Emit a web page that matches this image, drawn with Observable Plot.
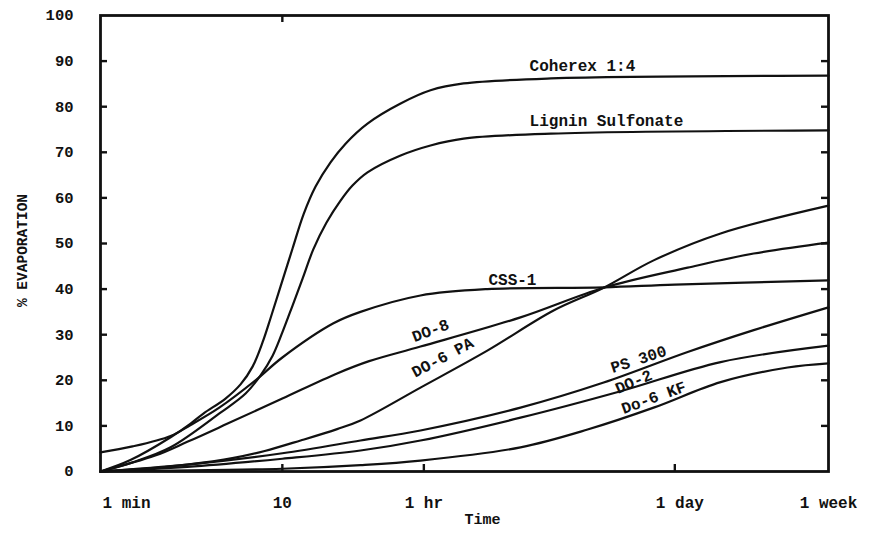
<!DOCTYPE html>
<html><head><meta charset="utf-8">
<script src="https://cdn.jsdelivr.net/npm/d3@7"></script>
<script src="https://cdn.jsdelivr.net/npm/@observablehq/plot@0.6"></script>
<style>
body{margin:0;background:#fff;}
#chart svg{display:block;}
</style>
</head><body><div id="chart"></div>
<script>
// ---- data (time in minutes, % evaporation) ----
const yTicks = [0, 10, 20, 30, 40, 50, 60, 70, 80, 90, 100];
const xTickTimes = [1, 10, 60, 1440, 10080];
const xTickLabels = ["1 min", "10", "1 hr", "1 day", "1 week"];
const innerBottomTicks = [10, 60, 1440];
const innerTopTicks = [10];

const coherex = [[1,0],[1.46,2.5],[2.43,7.5],[3.13,10.5],[3.68,12.7],[4.87,16],[5.89,19.1],[6.86,23],[7.78,28.3],[8.61,33.6],[9.78,40.6],[11.38,48.9],[13.08,56.4],[15.23,62.5],[18.41,67.8],[22.27,71.9],[29.4,76.3],[44.7,80.7],[65.3,83.6],[99.3,85.1],[300,86.2],[10080,86.8]];
const lignin = [[1,0],[1.5,2],[2.43,5.3],[4.57,12.9],[6.28,17.1],[7.59,21.1],[8.84,25.4],[10,30.5],[11.38,36.4],[12.92,42.3],[14.8,48.7],[17.5,54.6],[20.9,59.4],[24.3,62.7],[29.4,65.6],[44.7,69.3],[65.3,71.5],[99.3,73],[300,74.1],[10080,74.8]];
const css1 = [[1,4.2],[1.5,5.5],[2.43,7.8],[3.13,10.2],[4.5,14],[7.12,20],[10,25],[19.1,32.5],[26.9,35],[57.5,38.6],[134,40],[585,40.4],[1440,41],[10080,41.9]];
const do8 = [[1,0],[2,3.5],[3,6.5],[5,10.5],[10,16],[20,21.5],[30,24.2],[57.5,27.4],[204,33.8],[585,40.3],[1694,44.7],[3909,47.8],[10080,50.2]];
const do6pa = [[1,0],[2,0.8],[3,1.5],[5.4,3],[8,4.5],[12.6,6.8],[20,9.3],[26.9,11.2],[57.5,18.4],[134,26.5],[310,35.3],[585,40.3],[1101,46.3],[2572,52.2],[10080,58.3]];
const ps300 = [[1,0],[3,1.5],[10,4],[26.9,6.8],[57.5,9],[204,14],[585,19.5],[1694,26.2],[3909,31],[10080,36]];
const do2 = [[1,0],[3,1],[10,2.8],[26.9,4.6],[57.5,6.8],[204,11.8],[725,17.6],[2572,24],[10080,27.6]];
const do6kf = [[1,0],[10,0.6],[26.9,1.4],[57.5,2.4],[204,5.3],[477,9.2],[1101,14],[2572,19.6],[6011,22.8],[10080,23.7]];

const seriesNames = ["Coherex 1:4", "Lignin Sulfonate", "CSS-1", "DO-8", "DO-6 PA", "PS 300", "DO-2", "Do-6 KF"];
const seriesValues = [coherex, lignin, css1, do8, do6pa, ps300, do2, do6kf];

// curve labels: position in data coordinates and rotation
const labelTimes  = [229, 229, 136, 65.3, 76.1, 910, 855, 1101];
const labelValues = [89.0, 77.0, 42.1, 30.9, 25.0, 24.6, 19.7, 16.2];
const labelAngles = [0, 0, 0, -21, -28, -18, -23, -20];

// ---- build tables ----
const rows = [];
seriesValues.forEach((arr, i) => arr.forEach(([t, v]) => rows.push({name: seriesNames[i], t, v})));
const labels = seriesNames.map((name, i) => ({name, t: labelTimes[i], v: labelValues[i], a: labelAngles[i]}));
const xLabs = xTickTimes.map((t, i) => ({t, label: xTickLabels[i]}));

const W = 873, H = 533, mL = 100, mR = 45, mT = 15, mB = 62;
const plotW = W - mL - mR, plotH = H - mT - mB, tickLen = 7;
const xMin = 1, xMax = 10080, yMin = 0, yMax = 100;
// tick length expressed in data units so ticks go through the scales
const xTickEnd = Math.pow(10, Math.log10(xMax) * tickLen / plotW);
const xTickStartR = Math.pow(10, Math.log10(xMax) * (1 - tickLen / plotW));
const yTickLen = (yMax - yMin) * tickLen / plotH;
const font = "'Liberation Mono', 'DejaVu Sans Mono', monospace";
const ink = "#111";

const chart = Plot.plot({
  width: W, height: H,
  marginLeft: mL, marginRight: mR, marginTop: mT, marginBottom: mB,
  style: {fontFamily: font, background: "#fff", color: ink, overflow: "visible"},
  x: {type: "log", domain: [xMin, xMax], axis: null},
  y: {domain: [yMin, yMax], axis: null},
  marks: [
    // inward tick marks
    Plot.ruleY(yTicks.slice(1, -1), {y: d => d, x1: xMin, x2: xTickEnd, stroke: ink, strokeWidth: 2.4}),
    Plot.ruleY(yTicks.slice(1, -1), {y: d => d, x1: xTickStartR, x2: xMax, stroke: ink, strokeWidth: 2.4}),
    Plot.ruleX(innerBottomTicks, {x: d => d, y1: yMin, y2: yMin + yTickLen, stroke: ink, strokeWidth: 2.4}),
    Plot.ruleX(innerTopTicks, {x: d => d, y1: yMax - yTickLen, y2: yMax, stroke: ink, strokeWidth: 2.4}),
    // y tick labels
    Plot.text(yTicks, {x: xMin, y: d => d, text: d => String(d), dx: -27, textAnchor: "end",
      fontSize: 15.5, fontWeight: "bold", fill: ink}),
    // x tick labels
    Plot.text(xLabs.slice(0, 1), {x: "t", y: yMin, text: "label", dy: 31, dx: 2, textAnchor: "start",
      fontSize: 16, fontWeight: "bold", fill: ink}),
    Plot.text(xLabs.slice(1, 3), {x: "t", y: yMin, text: "label", dy: 31, textAnchor: "middle",
      fontSize: 16, fontWeight: "bold", fill: ink}),
    Plot.text(xLabs.slice(3, 4), {x: "t", y: yMin, text: "label", dy: 31, dx: 5, textAnchor: "middle",
      fontSize: 16, fontWeight: "bold", fill: ink}),
    Plot.text(xLabs.slice(4), {x: "t", y: yMin, text: "label", dy: 31, textAnchor: "middle",
      fontSize: 16, fontWeight: "bold", fill: ink}),
    // axis titles
    Plot.text(["Time"], {frameAnchor: "bottom", textAnchor: "middle", dx: 18, dy: 52, fontSize: 15, fontWeight: "bold", fill: ink}),
    Plot.text(["% EVAPORATION"], {frameAnchor: "left", textAnchor: "middle", dx: -78, dy: 7, rotate: -90, fontSize: 14.5, fontWeight: "bold", fill: ink}),
    // curves
    Plot.line(rows, {x: "t", y: "v", z: "name", curve: "catmull-rom", stroke: ink, strokeWidth: 2.2}),
    // curve labels
    Plot.text(labels.slice(0, 3), {x: "t", y: "v", text: "name", textAnchor: "start",
      fontSize: 16, fontWeight: "bold", fill: ink}),
    Plot.text(labels.slice(3), {x: "t", y: "v", text: "name", rotate: "a", textAnchor: "middle",
      fontSize: 16, fontWeight: "bold", fill: ink}),
    Plot.frame({stroke: ink, strokeWidth: 2.8})
  ]
});
document.getElementById("chart").appendChild(chart);
</script>
</body></html>
